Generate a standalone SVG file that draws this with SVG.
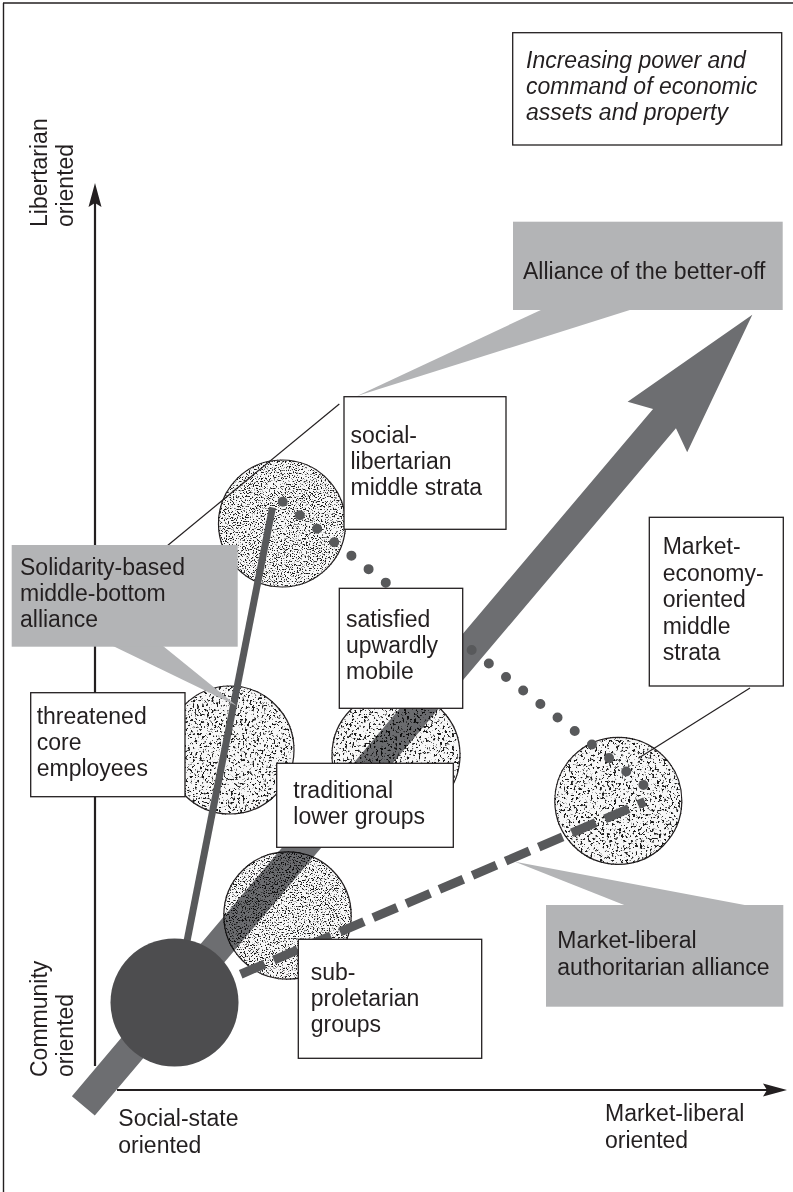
<svg xmlns="http://www.w3.org/2000/svg" width="793" height="1192" viewBox="0 0 793 1192">
<defs>
<style>
.t{font-family:"Liberation Sans",Arial,sans-serif;font-size:23px;fill:#231f20}
.it{font-style:italic}
.box{fill:#ffffff;stroke:#231f20;stroke-width:1.3}
.call{fill:#b3b4b6;stroke:none}
.circ{fill:#f7f7f7;stroke:#231f20;stroke-width:1.2}
.ax{stroke:#231f20;stroke-width:2.2;fill:none}
.ah{fill:#231f20}
.lead{stroke:#231f20;stroke-width:1.2;fill:none}
.link{stroke:#58595b;fill:none}
</style>
<filter id="texFine" color-interpolation-filters="sRGB">
<feTurbulence type="fractalNoise" baseFrequency="0.75" numOctaves="2" seed="7" result="n"/>
<feColorMatrix in="n" type="matrix" values="0 0 0 0 0.1  0 0 0 0 0.1  0 0 0 0 0.1  -9 0 0 0 4.1" result="d"/>
<feComposite in="d" in2="SourceAlpha" operator="in" result="dc"/>
<feMerge><feMergeNode in="SourceGraphic"/><feMergeNode in="dc"/></feMerge>
</filter>
<filter id="texCoarse" color-interpolation-filters="sRGB">
<feTurbulence type="fractalNoise" baseFrequency="0.42" numOctaves="3" seed="3" result="n"/>
<feColorMatrix in="n" type="matrix" values="0 0 0 0 0.1  0 0 0 0 0.1  0 0 0 0 0.1  -10 0 0 0 4.3" result="d"/>
<feComposite in="d" in2="SourceAlpha" operator="in" result="dc"/>
<feMerge><feMergeNode in="SourceGraphic"/><feMergeNode in="dc"/></feMerge>
</filter>
</defs>

<g id="frame">
<line x1="3" y1="3" x2="793" y2="3" stroke="#231f20" stroke-width="1.4"/>
<line x1="3.5" y1="3" x2="3.5" y2="1192" stroke="#231f20" stroke-width="1.4"/>
</g>

<g id="axes">
<line class="ax" x1="95" y1="1066" x2="95" y2="200"/>
<polygon class="ah" points="95,183 101.5,207 95,203 88.5,207"/>
<line class="ax" x1="117" y1="1090" x2="770" y2="1090"/>
<polygon class="ah" points="787,1090 763,1083.5 767,1090 763,1096.5"/>
<text class="t" transform="translate(47,227) rotate(-90)">Libertarian</text>
<text class="t" transform="translate(73,227) rotate(-90)">oriented</text>
<text class="t" transform="translate(47,1077) rotate(-90)">Community</text>
<text class="t" transform="translate(73,1077) rotate(-90)">oriented</text>
<text class="t" x="118.3" y="1126">Social-state</text>
<text class="t" x="118.3" y="1152.5">oriented</text>
<text class="t" x="605" y="1121">Market-liberal</text>
<text class="t" x="605" y="1147.5">oriented</text>
</g>

<g id="circle-social-libertarian"><circle class="circ" cx="282" cy="523.5" r="63.5" filter="url(#texFine)"/></g>
<g id="circle-threatened"><circle class="circ" cx="230" cy="750" r="64" filter="url(#texCoarse)"/></g>
<g id="circle-traditional"><circle class="circ" cx="396" cy="755" r="64" filter="url(#texCoarse)"/></g>
<g id="circle-subproletarian"><circle class="circ" cx="287.5" cy="915.5" r="63.7" filter="url(#texFine)"/></g>
<g id="circle-market-economy"><circle class="circ" cx="618.3" cy="800.8" r="63.5" filter="url(#texCoarse)"/></g>

<g id="power-arrow" style="mix-blend-mode:multiply">
<polygon fill="#6d6e71" transform="translate(83.35,1105.85) rotate(-49.78)" points="0,-15 900,-15 889,-39 1036,0 889,39 900,15 0,15"/>
</g>

<g id="connectors">
<line class="link" x1="175" y1="1002" x2="272.5" y2="507.5" stroke-width="7"/>
<line class="link" x1="282.7" y1="501.7" x2="643.5" y2="785" stroke-width="10" stroke-linecap="round" stroke-dasharray="0 21.84"/>
<line class="link" x1="174.5" y1="1002.5" x2="645" y2="801.7" stroke-width="9" stroke-dasharray="26 10"/>
<line class="lead" x1="339.3" y1="404" x2="167" y2="546"/>
<line class="lead" x1="750" y1="688" x2="638.3" y2="758.3"/>
</g>

<g id="core-circle"><circle cx="174.5" cy="1002.5" r="64" fill="#4d4d4f"/></g>

<g id="power-label">
<rect class="box" x="512.7" y="32.7" width="269" height="112.3"/>
<text class="t it" x="526" y="68">Increasing power and</text>
<text class="t it" x="526" y="94">command of economic</text>
<text class="t it" x="526" y="120">assets and property</text>
</g>

<g id="alliance-better-off">
<polygon class="call" points="543,309 633,309 357,396"/>
<rect class="call" x="513" y="221.7" width="269.7" height="88.3"/>
<text class="t" x="523" y="279">Alliance of the better-off</text>
</g>

<g id="solidarity-alliance">
<polygon class="call" points="113,646 163,646 237,706"/>
<rect class="call" x="11.7" y="545" width="226" height="101.7"/>
<text class="t" x="20" y="575">Solidarity-based</text>
<text class="t" x="20" y="601">middle-bottom</text>
<text class="t" x="20" y="627">alliance</text>
</g>

<g id="market-liberal-alliance">
<polygon class="call" points="515,861.7 626.7,906 750,906"/>
<rect class="call" x="546" y="905" width="237.3" height="101.7"/>
<text class="t" x="557.3" y="948.3">Market-liberal</text>
<text class="t" x="557.3" y="975">authoritarian alliance</text>
</g>

<g id="social-libertarian">
<rect class="box" x="344" y="396.7" width="162" height="132.6"/>
<text class="t" x="350.5" y="443">social-</text>
<text class="t" x="350.5" y="469">libertarian</text>
<text class="t" x="350.5" y="495">middle strata</text>
</g>

<g id="threatened">
<rect class="box" x="30.7" y="692.7" width="154.3" height="104"/>
<text class="t" x="36.7" y="723.5">threatened</text>
<text class="t" x="36.7" y="749.5">core</text>
<text class="t" x="36.7" y="775.5">employees</text>
</g>

<g id="satisfied">
<rect class="box" x="339.3" y="588.3" width="123.4" height="120"/>
<text class="t" x="346" y="627">satisfied</text>
<text class="t" x="346" y="653">upwardly</text>
<text class="t" x="346" y="679">mobile</text>
</g>

<g id="traditional">
<rect class="box" x="276.7" y="763.3" width="176.6" height="84"/>
<text class="t" x="293.3" y="797.5">traditional</text>
<text class="t" x="293.3" y="823.5">lower groups</text>
</g>

<g id="subproletarian">
<rect class="box" x="298.3" y="939.3" width="183.4" height="119"/>
<text class="t" x="310.7" y="979.5">sub-</text>
<text class="t" x="310.7" y="1005.5">proletarian</text>
<text class="t" x="310.7" y="1031.5">groups</text>
</g>

<g id="market-economy">
<rect class="box" x="649.3" y="517.3" width="134" height="168.7"/>
<text class="t" x="662.7" y="554">Market-</text>
<text class="t" x="662.7" y="580.5">economy-</text>
<text class="t" x="662.7" y="607">oriented</text>
<text class="t" x="662.7" y="633.5">middle</text>
<text class="t" x="662.7" y="660">strata</text>
</g>
</svg>
